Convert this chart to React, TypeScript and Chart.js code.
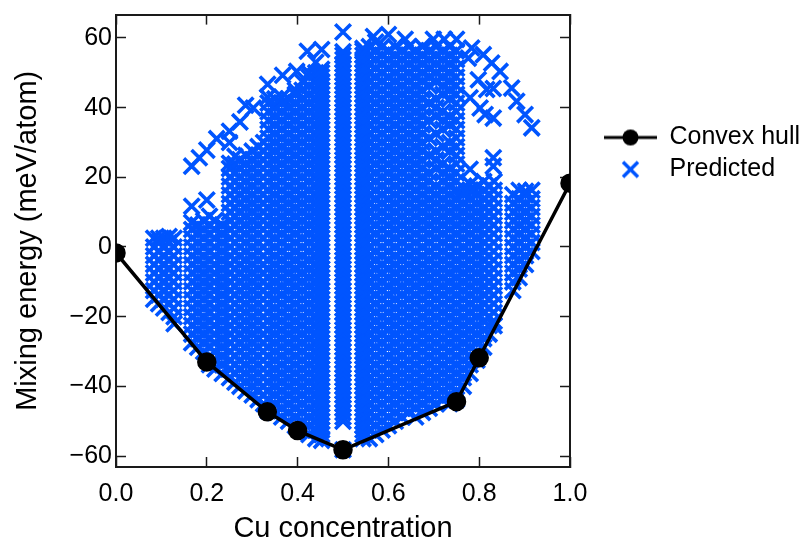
import React, { useEffect, useRef } from "react";
import { Chart, registerables } from "chart.js";

Chart.register(...registerables);

const hullX = [0, 0.2, 0.3333, 0.4, 0.5, 0.75, 0.8, 1];
const hullY = [-1.7, -33, -47.3, -52.7, -58.2, -44.4, -31.8, 18.3];
const xTicks = [0, 0.2, 0.4, 0.6, 0.8, 1];
const yTicks = [-60, -40, -20, 0, 20, 40, 60];

// isolated crosses that can be read one by one
const outlierX = [0.1667, 0.2, 0.1667, 0.1835, 0.2, 0.2218, 0.25, 0.25, 0.273, 0.2855, 0.3025, 0.334, 0.334, 0.367, 0.398, 0.4214, 0.453, 0.44, 0.5, 0.5,
  0.567, 0.6, 0.637, 0.699, 0.723, 0.75, 0.7835, 0.809, 0.8275, 0.846, 0.8715, 0.8826, 0.901, 0.9157, 0.776, 0.798, 0.8165, 0.831, 0.78, 0.802, 0.831, 0.813, 0.831, 0.831, 0.78];
const outlierY = [11.7, 13.5, 23.2, 25.6, 27.8, 31.1, 33.2, 30, 35.9, 40.7, 39.9, 46.7, 43, 49.3, 50.4, 56.2, 56.7, 53, 61.7, -58.2,
  60.4, 61, 59.6, 59.6, 59.6, 59.6, 57.1, 55.2, 52.8, 50.4, 45.6, 41.8, 38, 34.2, 54.2, 48, 45.2, 45.5, 42.8, 39.9, 37, 38, 25.6, 23.2, 22.3];

// saturated body of the cloud: estimated, column by column
const predictedX = [
  0.083, 0.094, 0.105, 0.117, 0.128, 0.1667, 0.18, 0.193, 0.206, 0.218, 0.234, 0.25, 0.262, 0.273, 0.286, 0.3, 0.313, 0.325,
  0.335, 0.35, 0.365, 0.38, 0.395, 0.41, 0.425, 0.44, 0.453, 0.5, 0.544, 0.558, 0.572, 0.586, 0.6, 0.615, 0.63, 0.645, 0.66,
  0.675, 0.69, 0.705, 0.72, 0.735, 0.75, 0.765, 0.78, 0.795, 0.81, 0.822, 0.833, 0.874, 0.888, 0.902, 0.916,
];
const predictedY = [
  [-15, -12.5, -10, -7.5, -5, -2.5, 0, 2.5],
  [-16.3, -13.8, -11.3, -8.8, -6.3, -3.8, -1.3, 1.3, 2.5],
  [-17.5, -15, -12.5, -10, -7.5, -5, -2.5, 0, 2.5],
  [-18.8, -16.3, -13.8, -11.3, -8.8, -6.3, -3.8, -1.3, 1.3, 3],
  [-22, -20, -17.5, -15, -12.5, -10, -7.5, -5, -2.5, 0, 2.5],
  [-27.5, -25, -22.5, -20, -17.5, -15, -12.5, -10, -7.5, -5, -2.5, 0, 2.5, 5, 7],
  [-28.8, -26.3, -23.8, -21.3, -18.8, -16.3, -13.8, -11.3, -8.8, -6.3, -3.8, -1.3, 1.3, 3.8, 6.3],
  [-30, -27.5, -25, -22.5, -20, -17.5, -15, -12.5, -10, -7.5, -5, -2.5, 0, 2.5, 5, 7.5],
  [-33.8, -31.3, -28.8, -26.3, -23.8, -21.3, -18.8, -16.3, -13.8, -11.3, -8.8, -6.3, -3.8, -1.3, 1.3, 3.8, 6.3, 8.8],
  [-35, -32.5, -30, -27.5, -25, -22.5, -20, -17.5, -15, -12.5, -10, -7.5, -5, -2.5, 0, 2.5, 5, 7.5],
  [-36.3, -33.8, -31.3, -28.8, -26.3, -23.8, -21.3, -18.8, -16.3, -13.8, -11.3, -8.8, -6.3, -3.8, -1.3, 1.3, 3.8, 6.3],
  [-37.5, -35, -32.5, -30, -27.5, -25, -22.5, -20, -17.5, -15, -12.5, -10, -7.5, -5, -2.5, 0, 2.5, 5, 7.5, 10, 12.5, 15, 17.5, 20, 22.5, 24],
  [-38.8, -36.3, -33.8, -31.3, -28.8, -26.3, -23.8, -21.3, -18.8, -16.3, -13.8, -11.3, -8.8, -6.3, -3.8, -1.3, 1.3, 3.8, 6.3, 8.8, 11.3, 13.8, 16.3, 18.8, 21.3, 23.8, 26],
  [-40, -37.5, -35, -32.5, -30, -27.5, -25, -22.5, -20, -17.5, -15, -12.5, -10, -7.5, -5, -2.5, 0, 2.5, 5, 7.5, 10, 12.5, 15, 17.5, 20, 22.5, 25],
  [-41.3, -38.8, -36.3, -33.8, -31.3, -28.8, -26.3, -23.8, -21.3, -18.8, -16.3, -13.8, -11.3, -8.8, -6.3, -3.8, -1.3, 1.3, 3.8, 6.3, 8.8, 11.3, 13.8, 16.3, 18.8, 21.3, 23.8, 26.3],
  [-42.5, -40, -37.5, -35, -32.5, -30, -27.5, -25, -22.5, -20, -17.5, -15, -12.5, -10, -7.5, -5, -2.5, 0, 2.5, 5, 7.5, 10, 12.5, 15, 17.5, 20, 22.5, 25, 27.5],
  [-43.8, -41.3, -38.8, -36.3, -33.8, -31.3, -28.8, -26.3, -23.8, -21.3, -18.8, -16.3, -13.8, -11.3, -8.8, -6.3, -3.8, -1.3, 1.3, 3.8, 6.3, 8.8, 11.3, 13.8, 16.3, 18.8, 21.3, 23.8, 26.3, 28.8],
  [-45, -42.5, -40, -37.5, -35, -32.5, -30, -27.5, -25, -22.5, -20, -17.5, -15, -12.5, -10, -7.5, -5, -2.5, 0, 2.5, 5, 7.5, 10, 12.5, 15, 17.5, 20, 22.5, 25, 27.5, 30],
  [-47, -46.3, -43.8, -41.3, -38.8, -36.3, -33.8, -31.3, -28.8, -26.3, -23.8, -21.3, -18.8, -16.3, -13.8, -11.3, -8.8, -6.3, -3.8, -1.3, 1.3, 3.8, 6.3, 8.8, 11.3, 13.8, 16.3, 18.8, 21.3, 23.8, 26.3, 28.8, 31.3, 33.8, 36.3, 38.8, 41.3],
  [-47.5, -45, -42.5, -40, -37.5, -35, -32.5, -30, -27.5, -25, -22.5, -20, -17.5, -15, -12.5, -10, -7.5, -5, -2.5, 0, 2.5, 5, 7.5, 10, 12.5, 15, 17.5, 20, 22.5, 25, 27.5, 30, 32.5, 35, 37.5, 40, 42.5],
  [-48.8, -46.3, -43.8, -41.3, -38.8, -36.3, -33.8, -31.3, -28.8, -26.3, -23.8, -21.3, -18.8, -16.3, -13.8, -11.3, -8.8, -6.3, -3.8, -1.3, 1.3, 3.8, 6.3, 8.8, 11.3, 13.8, 16.3, 18.8, 21.3, 23.8, 26.3, 28.8, 31.3, 33.8, 36.3, 38.8, 41.3, 43],
  [-50, -47.5, -45, -42.5, -40, -37.5, -35, -32.5, -30, -27.5, -25, -22.5, -20, -17.5, -15, -12.5, -10, -7.5, -5, -2.5, 0, 2.5, 5, 7.5, 10, 12.5, 15, 17.5, 20, 22.5, 25, 27.5, 30, 32.5, 35, 37.5, 40, 42.5],
  [-51.3, -48.8, -46.3, -43.8, -41.3, -38.8, -36.3, -33.8, -31.3, -28.8, -26.3, -23.8, -21.3, -18.8, -16.3, -13.8, -11.3, -8.8, -6.3, -3.8, -1.3, 1.3, 3.8, 6.3, 8.8, 11.3, 13.8, 16.3, 18.8, 21.3, 23.8, 26.3, 28.8, 31.3, 33.8, 36.3, 38.8, 41.3, 43.8, 45],
  [-52.5, -50, -47.5, -45, -42.5, -40, -37.5, -35, -32.5, -30, -27.5, -25, -22.5, -20, -17.5, -15, -12.5, -10, -7.5, -5, -2.5, 0, 2.5, 5, 7.5, 10, 12.5, 15, 17.5, 20, 22.5, 25, 27.5, 30, 32.5, 35, 37.5, 40, 42.5, 45, 47.5],
  [-53.8, -51.3, -48.8, -46.3, -43.8, -41.3, -38.8, -36.3, -33.8, -31.3, -28.8, -26.3, -23.8, -21.3, -18.8, -16.3, -13.8, -11.3, -8.8, -6.3, -3.8, -1.3, 1.3, 3.8, 6.3, 8.8, 11.3, 13.8, 16.3, 18.8, 21.3, 23.8, 26.3, 28.8, 31.3, 33.8, 36.3, 38.8, 41.3, 43.8, 46.3, 48.8, 50],
  [-55, -52.5, -50, -47.5, -45, -42.5, -40, -37.5, -35, -32.5, -30, -27.5, -25, -22.5, -20, -17.5, -15, -12.5, -10, -7.5, -5, -2.5, 0, 2.5, 5, 7.5, 10, 12.5, 15, 17.5, 20, 22.5, 25, 27.5, 30, 32.5, 35, 37.5, 40, 42.5, 45, 47.5, 50],
  [-55.5, -53.8, -52.5, -51.3, -50, -48.8, -47.5, -46.3, -45, -43.8, -42.5, -41.3, -40, -38.8, -37.5, -36.3, -35, -33.8, -32.5, -31.3, -30, -28.8, -27.5, -26.3, -25, -23.8, -22.5, -21.3, -20, -18.8, -17.5, -16.3, -15, -13.8, -12.5, -11.3, -10, -8.8, -7.5, -6.3, -5, -3.8, -2.5, -1.3, 0, 1.3, 2.5, 3.8, 5, 6.3, 7.5, 8.8, 10, 11.3, 12.5, 13.8, 15, 16.3, 17.5, 18.8, 20, 21.3, 22.5, 23.8, 25, 26.3, 27.5, 28.8, 30, 31.3, 32.5, 33.8, 35, 36.3, 37.5, 38.8, 40, 41.3, 42.5, 43.8, 45, 46.3, 47.5, 48.8, 50, 51],
  [-50, -48.8, -47.5, -46.3, -45, -43.8, -42.5, -41.3, -40, -38.8, -37.5, -36.3, -35, -33.8, -32.5, -31.3, -30, -28.8, -27.5, -26.3, -25, -23.8, -22.5, -21.3, -20, -18.8, -17.5, -16.3, -15, -13.8, -12.5, -11.3, -10, -8.8, -7.5, -6.3, -5, -3.8, -2.5, -1.3, 0, 1.3, 2.5, 3.8, 5, 6.3, 7.5, 8.8, 10, 11.3, 12.5, 13.8, 15, 16.3, 17.5, 18.8, 20, 21.3, 22.5, 23.8, 25, 26.3, 27.5, 28.8, 30, 31.3, 32.5, 33.8, 35, 36.3, 37.5, 38.8, 40, 41.3, 42.5, 43.8, 45, 46.3, 47.5, 48.8, 50, 51.3, 52.5, 53.8, 55, 56],
  [-55, -53.8, -52.5, -51.3, -50, -48.8, -47.5, -46.3, -45, -43.8, -42.5, -41.3, -40, -38.8, -37.5, -36.3, -35, -33.8, -32.5, -31.3, -30, -28.8, -27.5, -26.3, -25, -23.8, -22.5, -21.3, -20, -18.8, -17.5, -16.3, -15, -13.8, -12.5, -11.3, -10, -8.8, -7.5, -6.3, -5, -3.8, -2.5, -1.3, 0, 1.3, 2.5, 3.8, 5, 6.3, 7.5, 8.8, 10, 11.3, 12.5, 13.8, 15, 16.3, 17.5, 18.8, 20, 21.3, 22.5, 23.8, 25, 26.3, 27.5, 28.8, 30, 31.3, 32.5, 33.8, 35, 36.3, 37.5, 38.8, 40, 41.3, 42.5, 43.8, 45, 46.3, 47.5, 48.8, 50, 51.3, 52.5, 53.8, 55, 56.3, 57],
  [-55, -52.5, -50, -47.5, -45, -42.5, -40, -37.5, -35, -32.5, -30, -27.5, -25, -22.5, -20, -17.5, -15, -12.5, -10, -7.5, -5, -2.5, 0, 2.5, 5, 7.5, 10, 12.5, 15, 17.5, 20, 22.5, 25, 27.5, 30, 32.5, 35, 37.5, 40, 42.5, 45, 47.5, 50, 52.5, 55, 57.5],
  [-53.8, -51.3, -48.8, -46.3, -43.8, -41.3, -38.8, -36.3, -33.8, -31.3, -28.8, -26.3, -23.8, -21.3, -18.8, -16.3, -13.8, -11.3, -8.8, -6.3, -3.8, -1.3, 1.3, 3.8, 6.3, 8.8, 11.3, 13.8, 16.3, 18.8, 21.3, 23.8, 26.3, 28.8, 31.3, 33.8, 36.3, 38.8, 41.3, 43.8, 46.3, 48.8, 51.3, 53.8, 56.3, 58.8],
  [-52.5, -50, -47.5, -45, -42.5, -40, -37.5, -35, -32.5, -30, -27.5, -25, -22.5, -20, -17.5, -15, -12.5, -10, -7.5, -5, -2.5, 0, 2.5, 5, 7.5, 10, 12.5, 15, 17.5, 20, 22.5, 25, 27.5, 30, 32.5, 35, 37.5, 40, 42.5, 45, 47.5, 50, 52.5, 55, 57.5],
  [-51.3, -48.8, -46.3, -43.8, -41.3, -38.8, -36.3, -33.8, -31.3, -28.8, -26.3, -23.8, -21.3, -18.8, -16.3, -13.8, -11.3, -8.8, -6.3, -3.8, -1.3, 1.3, 3.8, 6.3, 8.8, 11.3, 13.8, 16.3, 18.8, 21.3, 23.8, 26.3, 28.8, 31.3, 33.8, 36.3, 38.8, 41.3, 43.8, 46.3, 48.8, 51.3, 53.8, 56.3],
  [-50, -47.5, -45, -42.5, -40, -37.5, -35, -32.5, -30, -27.5, -25, -22.5, -20, -17.5, -15, -12.5, -10, -7.5, -5, -2.5, 0, 2.5, 5, 7.5, 10, 12.5, 15, 17.5, 20, 22.5, 25, 27.5, 30, 32.5, 35, 37.5, 40, 42.5, 45, 47.5, 50, 52.5, 55, 57.5],
  [-48.8, -46.3, -43.8, -41.3, -38.8, -36.3, -33.8, -31.3, -28.8, -26.3, -23.8, -21.3, -18.8, -16.3, -13.8, -11.3, -8.8, -6.3, -3.8, -1.3, 1.3, 3.8, 6.3, 8.8, 11.3, 13.8, 16.3, 18.8, 21.3, 23.8, 26.3, 28.8, 31.3, 33.8, 36.3, 38.8, 41.3, 43.8, 46.3, 48.8, 51.3, 53.8, 56.3],
  [-47.5, -45, -42.5, -40, -37.5, -35, -32.5, -30, -27.5, -25, -22.5, -20, -17.5, -15, -12.5, -10, -7.5, -5, -2.5, 0, 2.5, 5, 7.5, 10, 12.5, 15, 17.5, 20, 22.5, 25, 27.5, 30, 32.5, 35, 37.5, 40, 42.5, 45, 47.5, 50, 52.5, 55, 57.5],
  [-48.8, -46.3, -43.8, -41.3, -38.8, -36.3, -33.8, -31.3, -28.8, -26.3, -23.8, -21.3, -18.8, -16.3, -13.8, -11.3, -8.8, -6.3, -3.8, -1.3, 1.3, 3.8, 6.3, 8.8, 11.3, 13.8, 16.3, 18.8, 21.3, 23.8, 26.3, 28.8, 31.3, 33.8, 36.3, 38.8, 41.3, 43.8, 46.3, 48.8, 51.3, 53.8, 56.3],
  [-47.5, -45, -42.5, -40, -37.5, -35, -32.5, -30, -27.5, -25, -22.5, -20, -17.5, -15, -12.5, -10, -7.5, -5, -2.5, 0, 2.5, 5, 7.5, 10, 12.5, 15, 17.5, 20, 22.5, 25, 27.5, 30, 32.5, 35, 37.5, 40, 42.5, 45, 47.5, 50, 52.5, 55, 57.5],
  [-46.3, -43.8, -41.3, -38.8, -36.3, -33.8, -31.3, -28.8, -26.3, -23.8, -21.3, -18.8, -16.3, -13.8, -11.3, -8.8, -6.3, -3.8, -1.3, 1.3, 3.8, 6.3, 8.8, 11.3, 13.8, 16.3, 18.8, 21.3, 26.3, 31.3, 36.3, 41.3, 46.3, 48.8, 51.3, 53.8, 56.3],
  [-45, -42.5, -40, -37.5, -35, -32.5, -30, -27.5, -25, -22.5, -20, -17.5, -15, -12.5, -10, -7.5, -5, -2.5, 0, 2.5, 5, 7.5, 10, 12.5, 15, 17.5, 22.5, 25, 27.5, 32.5, 37.5, 40, 42.5, 47.5, 50, 52.5, 55, 57.5],
  [-43.8, -41.3, -38.8, -36.3, -33.8, -31.3, -28.8, -26.3, -23.8, -21.3, -18.8, -16.3, -13.8, -11.3, -8.8, -6.3, -3.8, -1.3, 1.3, 3.8, 6.3, 8.8, 11.3, 13.8, 16.3, 18.8, 21.3, 23.8, 28.8, 33.8, 36.3, 38.8, 43.8, 46.3, 48.8, 51.3, 53.8, 56.3],
  [-45, -42.5, -40, -37.5, -35, -32.5, -30, -27.5, -25, -22.5, -20, -17.5, -15, -12.5, -10, -7.5, -5, -2.5, 0, 2.5, 5, 7.5, 10, 12.5, 15, 17.5, 20, 22.5, 27.5, 30, 35, 37.5, 42.5, 45, 47.5, 50, 52.5, 55, 57.5],
  [-43.8, -41.3, -38.8, -36.3, -33.8, -31.3, -28.8, -26.3, -23.8, -21.3, -18.8, -16.3, -13.8, -11.3, -8.8, -6.3, -3.8, -1.3, 1.3, 3.8, 6.3, 8.8, 11.3, 13.8, 16.3, 18.8, 21.3, 23.8, 26.3, 28.8, 31.3, 33.8, 36.3, 38.8, 41.3, 43.8, 46.3, 48.8, 51.3, 53.8, 56.3],
  [-40, -37.5, -35, -32.5, -30, -27.5, -25, -22.5, -20, -17.5, -15, -12.5, -10, -7.5, -5, -2.5, 0, 2.5, 5, 7.5, 10, 12.5, 15, 17],
  [-36.3, -33.8, -31.3, -28.8, -26.3, -23.8, -21.3, -18.8, -16.3, -13.8, -11.3, -8.8, -6.3, -3.8, -1.3, 1.3, 3.8, 6.3, 8.8, 11.3, 13.8, 16.3, 18],
  [-32.5, -30, -27.5, -25, -22.5, -20, -17.5, -15, -12.5, -10, -7.5, -5, -2.5, 0, 2.5, 5, 7.5, 10, 12.5, 15, 17.5],
  [-28.8, -26.3, -23.8, -21.3, -18.8, -16.3, -13.8, -11.3, -8.8, -6.3, -3.8, -1.3, 1.3, 3.8, 6.3, 8.8, 11.3, 13.8, 16.3, 18.8],
  [-25, -22.5, -20, -17.5, -15, -12.5, -10, -7.5, -5, -2.5, 0, 2.5, 5, 7.5, 10, 12.5, 15, 17.5],
  [-22.6, -21.3, -18.8, -16.3, -13.8, -11.3, -8.8, -6.3, -3.8, -1.3, 1.3, 3.8, 6.3, 8.8, 11.3, 13.8, 16.3, 18.8],
  [-12.5, -10, -7.5, -5, -2.5, 0, 2.5, 5, 7.5, 10, 12.5, 15],
  [-8.8, -6.3, -3.8, -1.3, 1.3, 3.8, 6.3, 8.8, 11.3, 13.8, 16.3],
  [-5, -2.5, 0, 2.5, 5, 7.5, 10, 12.5, 15, 16],
  [-1.3, 1.3, 3.8, 6.3, 8.8, 11.3, 13.8, 16.3],
];

const BLUE = "#0055ff";
const LEFT = 116;
const TOP = 13.5;
const RIGHT_GAP = 230;
const BOTTOM_GAP = 72;

function legendIcon(kind: "hull" | "pred"): HTMLCanvasElement {
  const c = document.createElement("canvas");
  c.width = 53;
  c.height = 24;
  const g = c.getContext("2d")!;
  if (kind === "hull") {
    g.strokeStyle = "#000";
    g.lineWidth = 3;
    g.beginPath();
    g.moveTo(0, 12);
    g.lineTo(53, 12);
    g.stroke();
    g.fillStyle = "#000";
    g.beginPath();
    g.arc(26.5, 12, 8, 0, Math.PI * 2);
    g.fill();
  } else {
    g.strokeStyle = BLUE;
    g.lineWidth = 3.5;
    g.beginPath();
    g.moveTo(19, 4.5);
    g.lineTo(34, 19.5);
    g.moveTo(34, 4.5);
    g.lineTo(19, 19.5);
    g.stroke();
  }
  return c;
}

const noPad = (s: any) => {
  s.paddingTop = 0;
  s.paddingBottom = 0;
  s.paddingLeft = 0;
  s.paddingRight = 0;
};

export default function App() {
  const ref = useRef<HTMLCanvasElement>(null);
  useEffect(() => {
    const points: { x: number; y: number }[] = [];
    predictedX.forEach((x, i) => predictedY[i].forEach((y) => points.push({ x, y })));
    outlierX.forEach((x, i) => points.push({ x, y: outlierY[i] }));
    const tickFont = { family: "'Liberation Sans'", size: 25 };
    const titleFont = { family: "'Liberation Sans'", size: 29 };
    const icons = [legendIcon("hull"), legendIcon("pred")];
    const axisCommon = {
      border: { display: true, color: "#1a1a1a", width: 2 },
      grid: { drawOnChartArea: false, drawTicks: true, tickLength: -10, tickWidth: 1.5, tickColor: "#1a1a1a" },
    };
    const chart = new Chart(ref.current!, {
      type: "scatter",
      data: {
        datasets: [
          {
            label: "Convex hull",
            data: hullX.map((x, i) => ({ x, y: hullY[i] })),
            showLine: true,
            borderColor: "#000",
            backgroundColor: "#000",
            borderWidth: 3.5,
            pointRadius: 8,
            pointStyle: "circle",
            order: 0,
          },
          {
            label: "Predicted",
            data: points,
            showLine: false,
            pointStyle: "crossRot",
            pointRadius: 11,
            pointBorderWidth: 3.6,
            borderColor: BLUE,
            backgroundColor: BLUE,
            order: 1,
          },
        ],
      },
      options: {
        animation: false,
        responsive: false,
        events: [],
        layout: { padding: { top: TOP, right: RIGHT_GAP, left: 0, bottom: 0 } },
        scales: {
          x: {
            type: "linear",
            position: "bottom",
            min: 0,
            max: 1,
            ...axisCommon,
            afterBuildTicks: (s: any) => { s.ticks = xTicks.map((value) => ({ value })); },
            afterFit: (s: any) => { s.height = BOTTOM_GAP; noPad(s); },
            ticks: {
              color: "#000",
              font: tickFont,
              padding: 22,
              maxRotation: 0,
              callback: (v: any) => Number(v).toFixed(1),
            },
            title: { display: true, text: "Cu concentration", color: "#000", font: titleFont, padding: { top: 0, bottom: -7 } },
          },
          y: {
            type: "linear",
            position: "left",
            min: -63.15,
            max: 66.7,
            ...axisCommon,
            afterBuildTicks: (s: any) => { s.ticks = yTicks.map((value) => ({ value })); },
            afterFit: (s: any) => { s.width = LEFT; noPad(s); },
            ticks: {
              color: "#000",
              font: tickFont,
              padding: 14,
              callback: (v: any) => String(v).replace("-", "\u2212"),
            },
            title: { display: true, text: "Mixing energy (meV/atom)", color: "#000", font: titleFont, padding: { top: 11, bottom: 0 } },
          },
          x2: {
            type: "linear",
            position: "top",
            min: 0,
            max: 1,
            ...axisCommon,
            afterBuildTicks: (s: any) => { s.ticks = xTicks.map((value) => ({ value })); },
            afterFit: (s: any) => { s.height = 0; noPad(s); },
            ticks: { display: false },
          },
          y2: {
            type: "linear",
            position: "right",
            min: -63.15,
            max: 66.7,
            ...axisCommon,
            afterBuildTicks: (s: any) => { s.ticks = yTicks.map((value) => ({ value })); },
            afterFit: (s: any) => { s.width = 0; noPad(s); },
            ticks: { display: false },
          },
        },
        plugins: {
          tooltip: { enabled: false },
          legend: {
            display: true,
            position: "chartArea",
            align: "start",
            labels: {
              color: "#000",
              font: { family: "'Liberation Sans'", size: 25 },
              usePointStyle: true,
              pointStyleWidth: 53,
              padding: 7,
              generateLabels: (c: any) =>
                c.data.datasets.map((d: any, i: number) => ({
                  text: d.label,
                  pointStyle: icons[i],
                  fontColor: "#000",
                  datasetIndex: i,
                  lineWidth: 0,
                })),
            },
          },
        },
      },
      plugins: [
        {
          id: "legendPlace",
          beforeDraw(c: any) {
            const l = c.legend;
            const w = l.width;
            const h = l.height;
            l.left = 597;
            l.right = 597 + w;
            l.top = 118;
            l.bottom = 118 + h;
          },
        },
      ],
    } as any);
    return () => chart.destroy();
  }, []);
  return (
    <div style={{ position: "fixed", left: 0, top: 0, width: 800, height: 539, background: "#fff" }}>
      <canvas ref={ref} width={800} height={539} style={{ display: "block" }} />
    </div>
  );
}
